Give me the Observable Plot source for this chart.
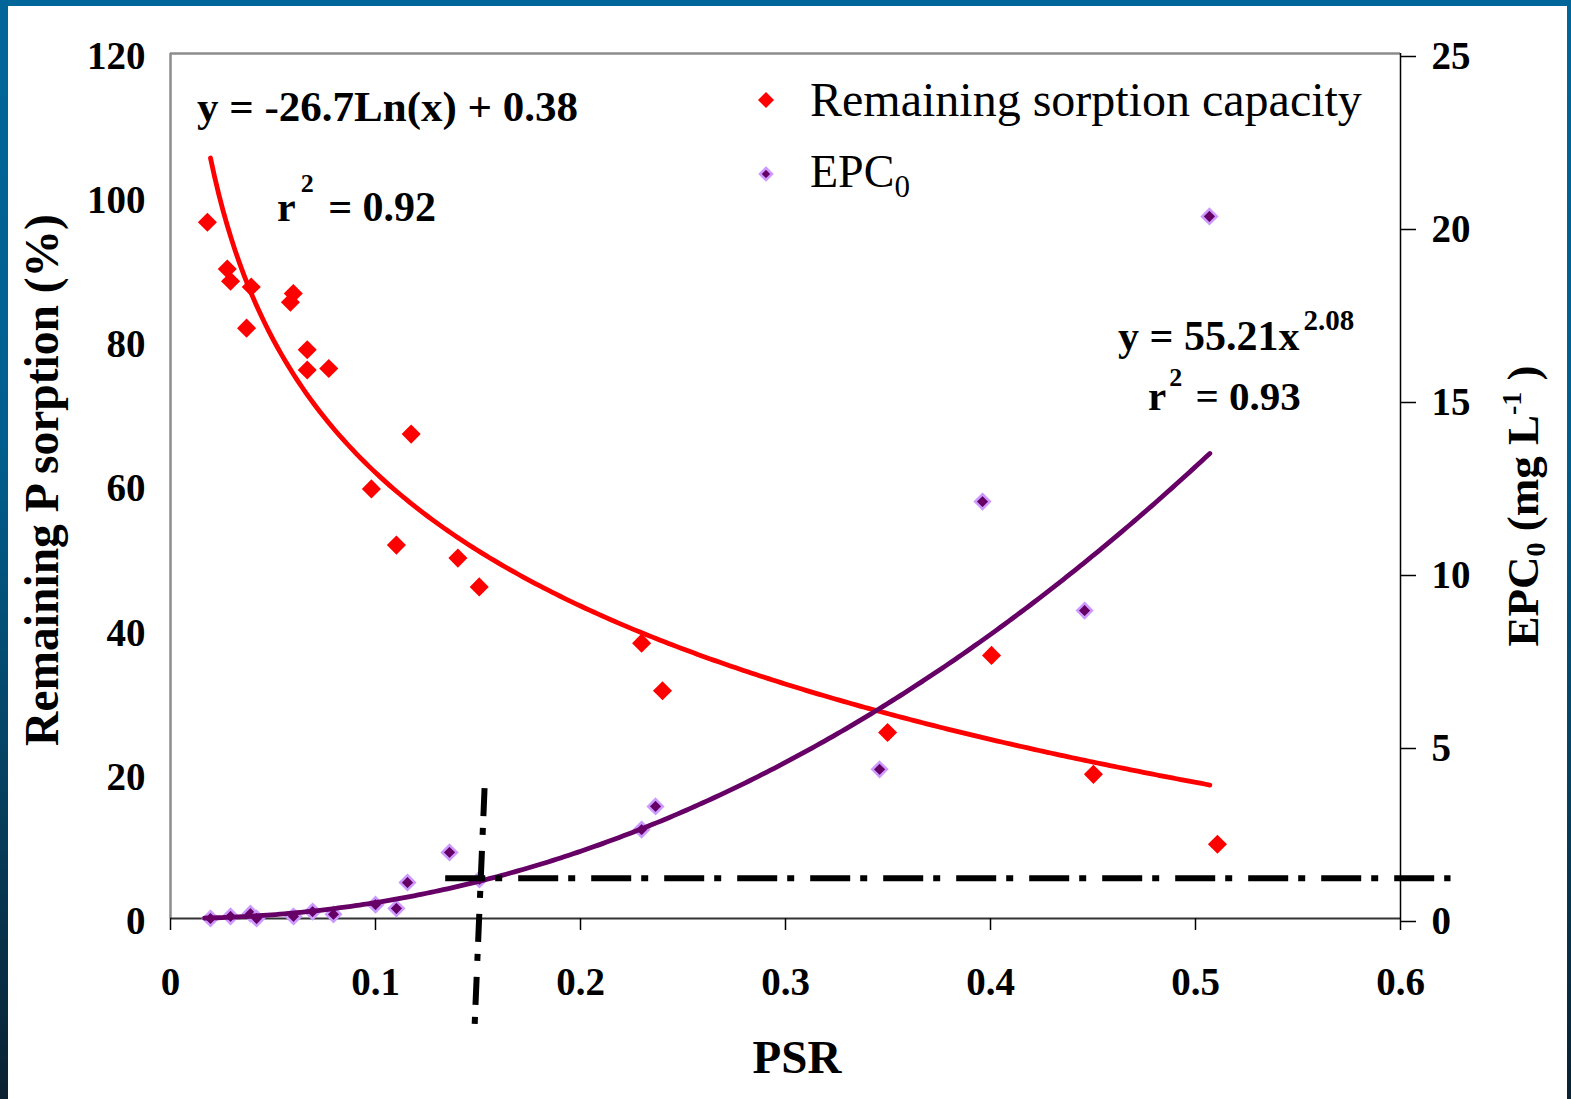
<!DOCTYPE html>
<html>
<head>
<meta charset="utf-8">
<script src="https://cdn.jsdelivr.net/npm/d3@7"></script>
<script src="https://cdn.jsdelivr.net/npm/@observablehq/plot@0.6"></script>
<style>
  html, body { margin: 0; padding: 0; }
  body {
    width: 1571px; height: 1099px; overflow: hidden; position: relative;
    background: linear-gradient(to bottom, #006699 0%, #005f8f 40%, #06405f 72%, #0a2132 100%);
  }
  #sheet { position: absolute; left: 8px; top: 6px; width: 1559px; height: 1093px; background: #ffffff; }
  #chart { position: absolute; left: 0; top: 0; width: 1571px; height: 1099px; }
</style>
</head>
<body>
<div id="sheet"></div>
<div id="chart"></div>
<script>
// Remaining P sorption capacity (%) against PSR
const psrSorption = [0.018, 0.0277, 0.0293, 0.0394, 0.0371, 0.0599, 0.0585, 0.0667, 0.0667, 0.0772,
  0.1174, 0.098, 0.1102, 0.1402, 0.1506, 0.2298, 0.24, 0.3498, 0.4005, 0.4502, 0.5107];
const remainingSorption = [96.6, 90.1, 88.4, 87.6, 81.9, 86.7, 85.5, 78.9, 76.1, 76.3,
  67.2, 59.6, 51.8, 50.0, 46.0, 38.2, 31.6, 25.8, 36.5, 20.0, 10.3];

// EPC0 (mg L-1) against PSR
const psrEpc = [0.0195, 0.0293, 0.039, 0.042, 0.06, 0.0693, 0.0795, 0.1, 0.1102, 0.1156,
  0.1361, 0.1507, 0.2298, 0.2366, 0.3459, 0.3961, 0.4459, 0.5068];
const epc0 = [0.0, 0.06, 0.14, 0.0, 0.06, 0.2, 0.12, 0.4, 0.29, 1.04,
  1.91, 1.13, 2.57, 3.24, 4.31, 12.05, 8.9, 20.29];

// Axis ticks
const xTicks = [0, 0.1, 0.2, 0.3, 0.4, 0.5, 0.6];
const leftTicks = [0, 20, 40, 60, 80, 100, 120];
const rightTicks = [0, 5, 10, 15, 20, 25];

// Trendline coefficients: y = a ln(x) + b and y = c x^p
const logA = -26.7, logB = 0.38, logR2 = 0.92;
const powC = 55.21, powP = 2.08, powR2 = 0.93;
const logFitRange = [0.0195, 0.507];
const powFitRange = [0.0166, 0.507];

// Change-point guide lines (EPC0 threshold and PSR cut-off)
const epcThreshold = 1.16;
const thresholdPsrRange = [0.134, 0.6244];
const cutoffPsr = [0.1532, 0.1483];
const cutoffSorption = [18.1, -15.2];

const k = 120 / 25; // right axis (EPC0) expressed in left-axis units
const serif = "'Liberation Serif', 'Times New Roman', serif";

const sampleRange = ([a, b]) => d3.range(0, 241).map(i => a + (b - a) * i / 240);
const logX = sampleRange(logFitRange);
const powX = sampleRange(powFitRange);
const idxS = d3.range(psrSorption.length);
const idxE = d3.range(psrEpc.length);

const plot = Plot.plot({
  width: 1571,
  height: 1099,
  marginLeft: 170,
  marginRight: 171,
  marginTop: 53,
  marginBottom: 181,
  style: { background: "transparent", fontFamily: serif, overflow: "visible" },
  x: { domain: [0, 0.6] },
  y: { domain: [0, 120] },
  marks: [
    // plot-area border and axis lines
    Plot.ruleX([0], { stroke: "#8c8c8c", strokeWidth: 2.5 }),
    Plot.ruleY([120], { stroke: "#8c8c8c", strokeWidth: 2.5 }),
    Plot.ruleY([0], { stroke: "#333333", strokeWidth: 2 }),
    Plot.ruleX([0.6], { stroke: "#000000", strokeWidth: 1.5 }),
    Plot.axisX(xTicks, {
      tickSize: 12, tickPadding: 37, strokeWidth: 1.5, label: null,
      tickFormat: d => String(d), fontSize: 39, fontWeight: "bold"
    }),
    Plot.axisY(leftTicks, {
      anchor: "left", tickSize: 0, tickPadding: 25, label: null, dy: 3,
      tickFormat: d => String(d), fontSize: 39, fontWeight: "bold"
    }),
    Plot.axisY(rightTicks.map(v => v * k), {
      anchor: "right", tickSize: 15, tickPadding: 16, strokeWidth: 1.5, label: null, dy: 3,
      tickFormat: d => String(Math.round(d / k)), fontSize: 39, fontWeight: "bold"
    }),
    // data points
    Plot.dot(idxE, {
      x: i => psrEpc[i], y: i => epc0[i] * k, symbol: "diamond2", r: 6.6,
      fill: "#660066", stroke: "#cc99ff", strokeWidth: 2.5
    }),
    Plot.dot(idxS, {
      x: i => psrSorption[i], y: i => remainingSorption[i], symbol: "diamond2", r: 8.6,
      fill: "#ff0000", stroke: "none"
    }),
    // trendlines
    Plot.line(logX, { x: d => d, y: d => logA * Math.log(d) + logB, stroke: "#ff0000", strokeWidth: 4.8 }),
    Plot.line(powX, { x: d => d, y: d => powC * Math.pow(d, powP) * k, stroke: "#660066", strokeWidth: 4.8 }),
    // dash-dot guide lines
    Plot.link([0], {
      x1: () => thresholdPsrRange[0], x2: () => thresholdPsrRange[1],
      y1: () => epcThreshold * k, y2: () => epcThreshold * k,
      stroke: "#000", strokeWidth: 6, strokeDasharray: "40,10,7,16"
    }),
    Plot.link([0], {
      x1: () => cutoffPsr[0], x2: () => cutoffPsr[1],
      y1: () => cutoffSorption[0], y2: () => cutoffSorption[1],
      stroke: "#000", strokeWidth: 6, strokeDasharray: "28,12,7,16"
    })
  ]
});

document.getElementById("chart").appendChild(plot);

const svg = d3.select(plot);
const g = svg.append("g").attr("font-family", serif).attr("fill", "#000").attr("text-anchor", "start");

// axis titles
g.append("text").attr("x", 797).attr("y", 1073).attr("text-anchor", "middle")
  .attr("font-size", 47).attr("font-weight", "bold").text("PSR");

g.append("text").attr("transform", "translate(58,480) rotate(-90)").attr("text-anchor", "middle")
  .attr("font-size", 47.5).attr("font-weight", "bold").text("Remaining P sorption (%)");

const rt = g.append("text").attr("transform", "translate(1538,506) rotate(-90)").attr("text-anchor", "middle")
  .attr("font-size", 45).attr("font-weight", "bold");
rt.append("tspan").text("EPC");
rt.append("tspan").attr("font-size", 28).attr("dy", 7).text("0");
rt.append("tspan").attr("dy", -7).text(" (mg L");
rt.append("tspan").attr("font-size", 28).attr("dy", -17).text("-1");
rt.append("tspan").attr("dy", 17).text(" )");

// trendline equations
g.append("text").attr("x", 197).attr("y", 121).attr("font-size", 43).attr("font-weight", "bold")
  .text(`y = ${logA}Ln(x) + ${logB}`);
const r1 = g.append("text").attr("x", 277).attr("y", 221).attr("font-size", 42).attr("font-weight", "bold");
r1.append("tspan").text("r");
r1.append("tspan").attr("font-size", 26).attr("dx", 5).attr("dy", -29).text("2");
r1.append("tspan").attr("dx", 4).attr("dy", 29).text(` = ${logR2.toFixed(2)}`);

const e2 = g.append("text").attr("x", 1118).attr("y", 350).attr("font-size", 42).attr("font-weight", "bold");
e2.append("tspan").text(`y = ${powC}x`);
e2.append("tspan").attr("font-size", 29).attr("dx", 4).attr("dy", -20).text(powP.toFixed(2));
const r2 = g.append("text").attr("x", 1148).attr("y", 410).attr("font-size", 41).attr("font-weight", "bold");
r2.append("tspan").text("r");
r2.append("tspan").attr("font-size", 26).attr("dx", 3).attr("dy", -24).text("2");
r2.append("tspan").attr("dx", 3).attr("dy", 24).text(` = ${powR2.toFixed(2)}`);

// legend
const diamond = (cx, cy, h) => `M${cx},${cy - h}L${cx + h},${cy}L${cx},${cy + h}L${cx - h},${cy}Z`;
g.append("path").attr("d", diamond(766, 100, 8)).attr("fill", "#ff0000");
g.append("text").attr("x", 810).attr("y", 116).attr("font-size", 48).text("Remaining sorption capacity");
g.append("path").attr("d", diamond(766, 174, 6)).attr("fill", "#660066").attr("stroke", "#cc99ff").attr("stroke-width", 2.5);
const lg = g.append("text").attr("x", 810).attr("y", 187).attr("font-size", 46);
lg.append("tspan").text("EPC");
lg.append("tspan").attr("font-size", 31).attr("dy", 10).text("0");
</script>
</body>
</html>
